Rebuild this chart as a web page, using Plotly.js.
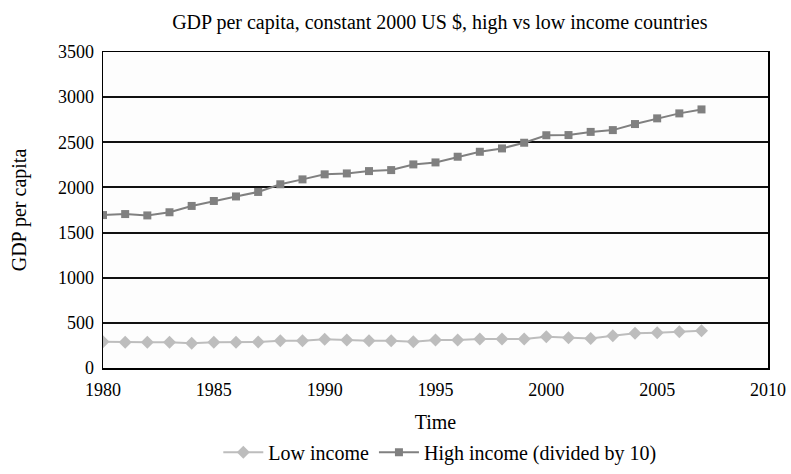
<!DOCTYPE html>
<html>
<head>
<meta charset="utf-8">
<script src="https://cdn.plot.ly/plotly-3.0.1.min.js"></script>
<style>html,body{margin:0;padding:0;background:#fff;}#chart{width:791px;height:474px;}</style>
</head>
<body>
<div id="chart"></div>
<script>
const years = [1980,1981,1982,1983,1984,1985,1986,1987,1988,1989,1990,1991,1992,1993,1994,1995,1996,1997,1998,1999,2000,2001,2002,2003,2004,2005,2006,2007];
const lowIncome = [290,285,285,285,273,285,285,288,303,303,318,310,303,303,291,310,310,321,321,321,347,336,328,358,384,391,402,413];
const highIncomeDiv10 = [1694,1705,1690,1725,1795,1850,1900,1950,2035,2089,2145,2155,2181,2192,2255,2277,2340,2395,2432,2495,2578,2580,2615,2635,2702,2765,2820,2864];
const yTicks = [0,500,1000,1500,2000,2500,3000,3500];
const xTicks = [1980,1985,1990,1995,2000,2005,2010];

const serif = "Liberation Serif, Times New Roman, serif";

const traces = [
  {x: years, y: lowIncome, name: "Low income", type: "scatter", mode: "lines+markers",
   line: {color: "#bdbdbd", width: 2}, marker: {symbol: "diamond", size: 10, color: "#bdbdbd"}},
  {x: years, y: highIncomeDiv10, name: "High income (divided by 10)", type: "scatter", mode: "lines+markers",
   line: {color: "#808080", width: 2}, marker: {symbol: "square", size: 8, color: "#808080"}}
];

const layout = {
  width: 791, height: 474,
  margin: {l: 103, r: 23, t: 52, b: 106, autoexpand: false},
  paper_bgcolor: "#ffffff", plot_bgcolor: "#fdfdfd",
  font: {family: serif, size: 18, color: "#000"},
  title: {text: "GDP per capita, constant 2000 US $, high vs low income countries",
          font: {family: serif, size: 20, color: "#000"}, x: 0.556, xref: "container", xanchor: "center",
          y: 0.953, yref: "container", yanchor: "middle"},
  xaxis: {range: [1980, 2010], tickvals: xTicks, ticktext: xTicks.map(String), showgrid: false, zeroline: false,
          showline: true, mirror: true, linecolor: "#000", linewidth: 1.5,
          ticks: "outside", ticklen: 5, tickcolor: "rgba(0,0,0,0)", automargin: false,
          title: {text: "Time", font: {family: serif, size: 20}, standoff: 16},
          tickfont: {family: serif, size: 18}},
  yaxis: {range: [0, 3500], tickvals: yTicks, ticktext: yTicks.map(String), showgrid: true, gridcolor: "#111", gridwidth: 2,
          zeroline: false, showline: true, mirror: true, linecolor: "#000", linewidth: 1.5,
          ticks: "outside", ticklen: 4, tickcolor: "rgba(0,0,0,0)", automargin: false,
          title: {text: "GDP per capita", font: {family: serif, size: 20}, standoff: 26},
          tickfont: {family: serif, size: 18}},
  legend: {orientation: "h", x: 0.556, xref: "container", xanchor: "center", y: 0.046, yref: "container", yanchor: "middle",
           font: {family: serif, size: 20}, bgcolor: "rgba(0,0,0,0)", itemwidth: 40},
  showlegend: true
};

Plotly.newPlot("chart", traces, layout, {displayModeBar: false, staticPlot: true});
</script>
</body>
</html>
